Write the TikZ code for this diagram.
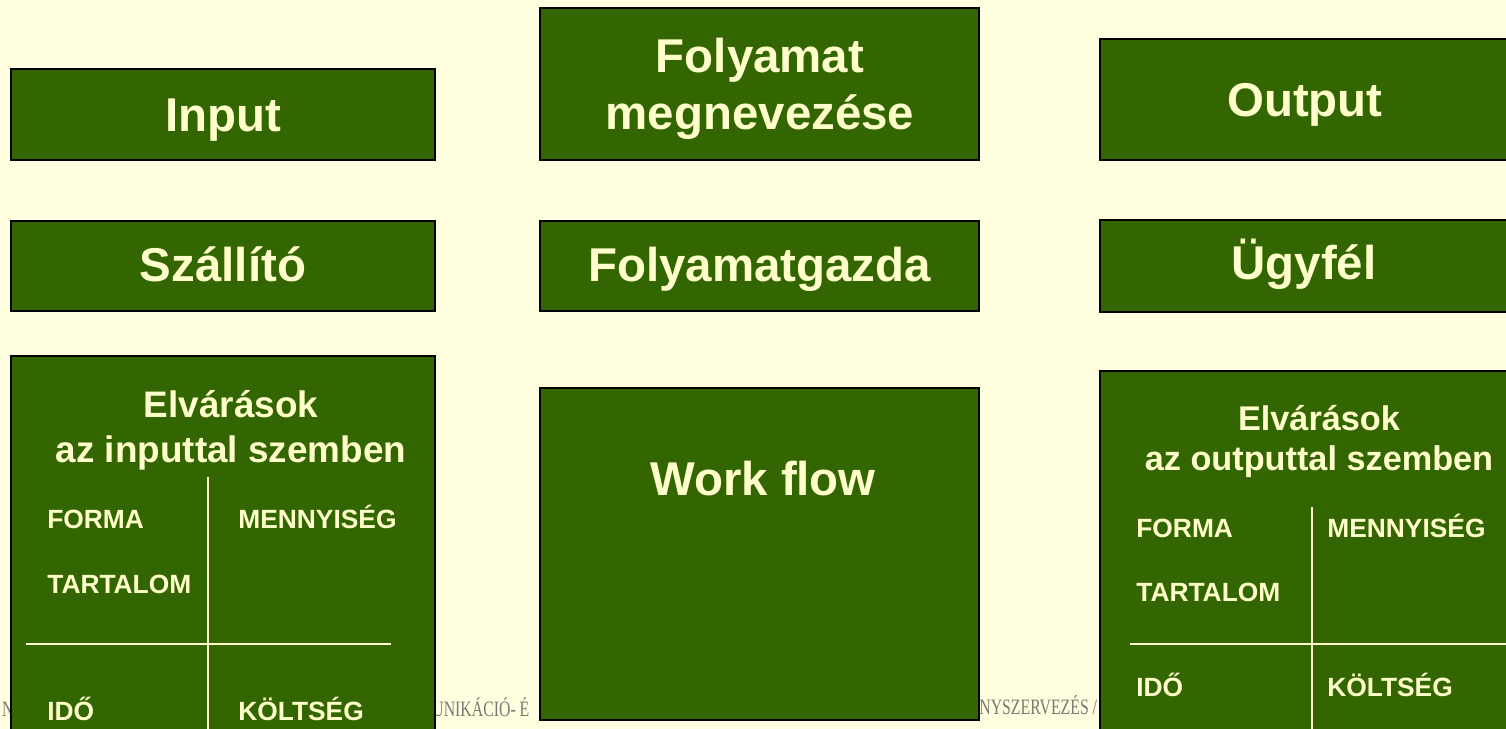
\documentclass[tikz,border=0pt]{standalone}
\usepackage{fontspec}
\setmainfont{Liberation Sans}
\newfontfamily\footfont[FakeStretch=0.72]{Liberation Serif}
\usetikzlibrary{positioning}
\definecolor{bgcream}{HTML}{FFFFE0}
\definecolor{boxgreen}{HTML}{336600}
\definecolor{txtcream}{HTML}{FFFFCC}
\definecolor{footgray}{HTML}{7A7A72}

\begin{document}
\begin{tikzpicture}[x=0.02cm, y=-0.02cm,
    mybox/.style={draw=black, line width=1.1pt, fill=boxgreen, inner sep=0pt},
    bigtxt/.style={text=txtcream, inner sep=0pt, anchor=base, font=\fontsize{27}{32}\selectfont\bfseries},
    headtxt/.style={text=txtcream, inner sep=0pt, anchor=base, font=\fontsize{#1}{25}\selectfont\bfseries},
    celltxt/.style={text=txtcream, inner sep=0pt, anchor=base west, font=\fontsize{15}{18}\selectfont\bfseries},
    foottxt/.style={text=footgray, inner sep=0pt, font=\fontsize{12.5}{14}\selectfont\footfont},
    gridline/.style={draw=txtcream, line width=0.8pt}]

\clip (0,0) rectangle (1506,729);
\fill[bgcream] (0,0) rectangle (1506,729);

% footer text behind the boxes
\node[foottxt, anchor=base east] (footA) at (14,716) {N};
\node[foottxt, anchor=base west] (footB) at (432,716) {UNIKÁCIÓ- É};
\node[foottxt, anchor=base west] (footC) at (979,714) {NYSZERVEZÉS /};

% top row
\node[mybox, minimum width=8.48cm, minimum height=1.82cm] (inp) at (223,114.5) {};
\node[mybox, minimum width=8.78cm, minimum height=3.04cm] (proc) at (759.5,84) {};
\node[mybox, minimum width=8.2cm, minimum height=2.42cm] (out) at (1305,99.5) {};
\node[bigtxt] (inptxt) at (223,132) {Input};
\node[bigtxt] (proctxtA) at (760,73) {Folyamat};
\node[bigtxt] (proctxtB) at (760,130) {megnevezése};
\node[bigtxt] (outtxt) at (1305,117) {Output};

% middle row
\node[mybox, minimum width=8.48cm, minimum height=1.8cm] (szall) at (223,266) {};
\node[mybox, minimum width=8.78cm, minimum height=1.8cm] (gazda) at (759.5,266) {};
\node[mybox, minimum width=8.2cm, minimum height=1.84cm] (ugyfel) at (1305,266) {};
\node[bigtxt] (szalltxt) at (223,281) {Szállító};
\node[bigtxt] (gazdatxt) at (759.5,281) {Folyamatgazda};
\node[bigtxt] (ugyfeltxt) at (1304,279) {Ügyfél};

% bottom row
\node[mybox, minimum width=8.48cm, minimum height=8.08cm] (elvin) at (223,558) {};
\node[mybox, minimum width=8.78cm, minimum height=6.64cm] (flow) at (759.5,554) {};
\node[mybox, minimum width=8.2cm, minimum height=7.78cm] (elvout) at (1305,565.5) {};
\node[bigtxt] (flowtxt) at (763,495) {Work flow};

% expectations: input
\node[headtxt=21] (elvinA) at (231,417) {Elvárások};
\node[headtxt=21] (elvinB) at (231,462) {az inputtal szemben};
\coordinate (inV) at (208,477);
\coordinate (inH) at (26,644);
\draw[gridline] (inV) -- (inV |- elvin.south);
\draw[gridline] (inH) -- (391,644);
\node[celltxt] (informa) at (47,528) {FORMA};
\node[celltxt] (inmenny) at (238,528) {MENNYISÉG};
\node[celltxt] (intart) at (47,593) {TARTALOM};
\node[celltxt] (inido) at (47,720) {IDŐ};
\node[celltxt] (inkolt) at (238,720) {KÖLTSÉG};

% expectations: output
\node[headtxt=19.5] (elvoutA) at (1319,430) {Elvárások};
\node[headtxt=19.5] (elvoutB) at (1319,470) {az outputtal szemben};
\coordinate (outV) at (1312,507);
\coordinate (outH) at (1130,644);
\draw[gridline] (outV) -- (outV |- elvout.south);
\draw[gridline] (outH) -- (outH -| elvout.east);
\node[celltxt] (outforma) at (1136,537) {FORMA};
\node[celltxt] (outmenny) at (1327,537) {MENNYISÉG};
\node[celltxt] (outtart) at (1136,601) {TARTALOM};
\node[celltxt] (outido) at (1136,696) {IDŐ};
\node[celltxt] (outkolt) at (1327,696) {KÖLTSÉG};
\end{tikzpicture}
\end{document}
